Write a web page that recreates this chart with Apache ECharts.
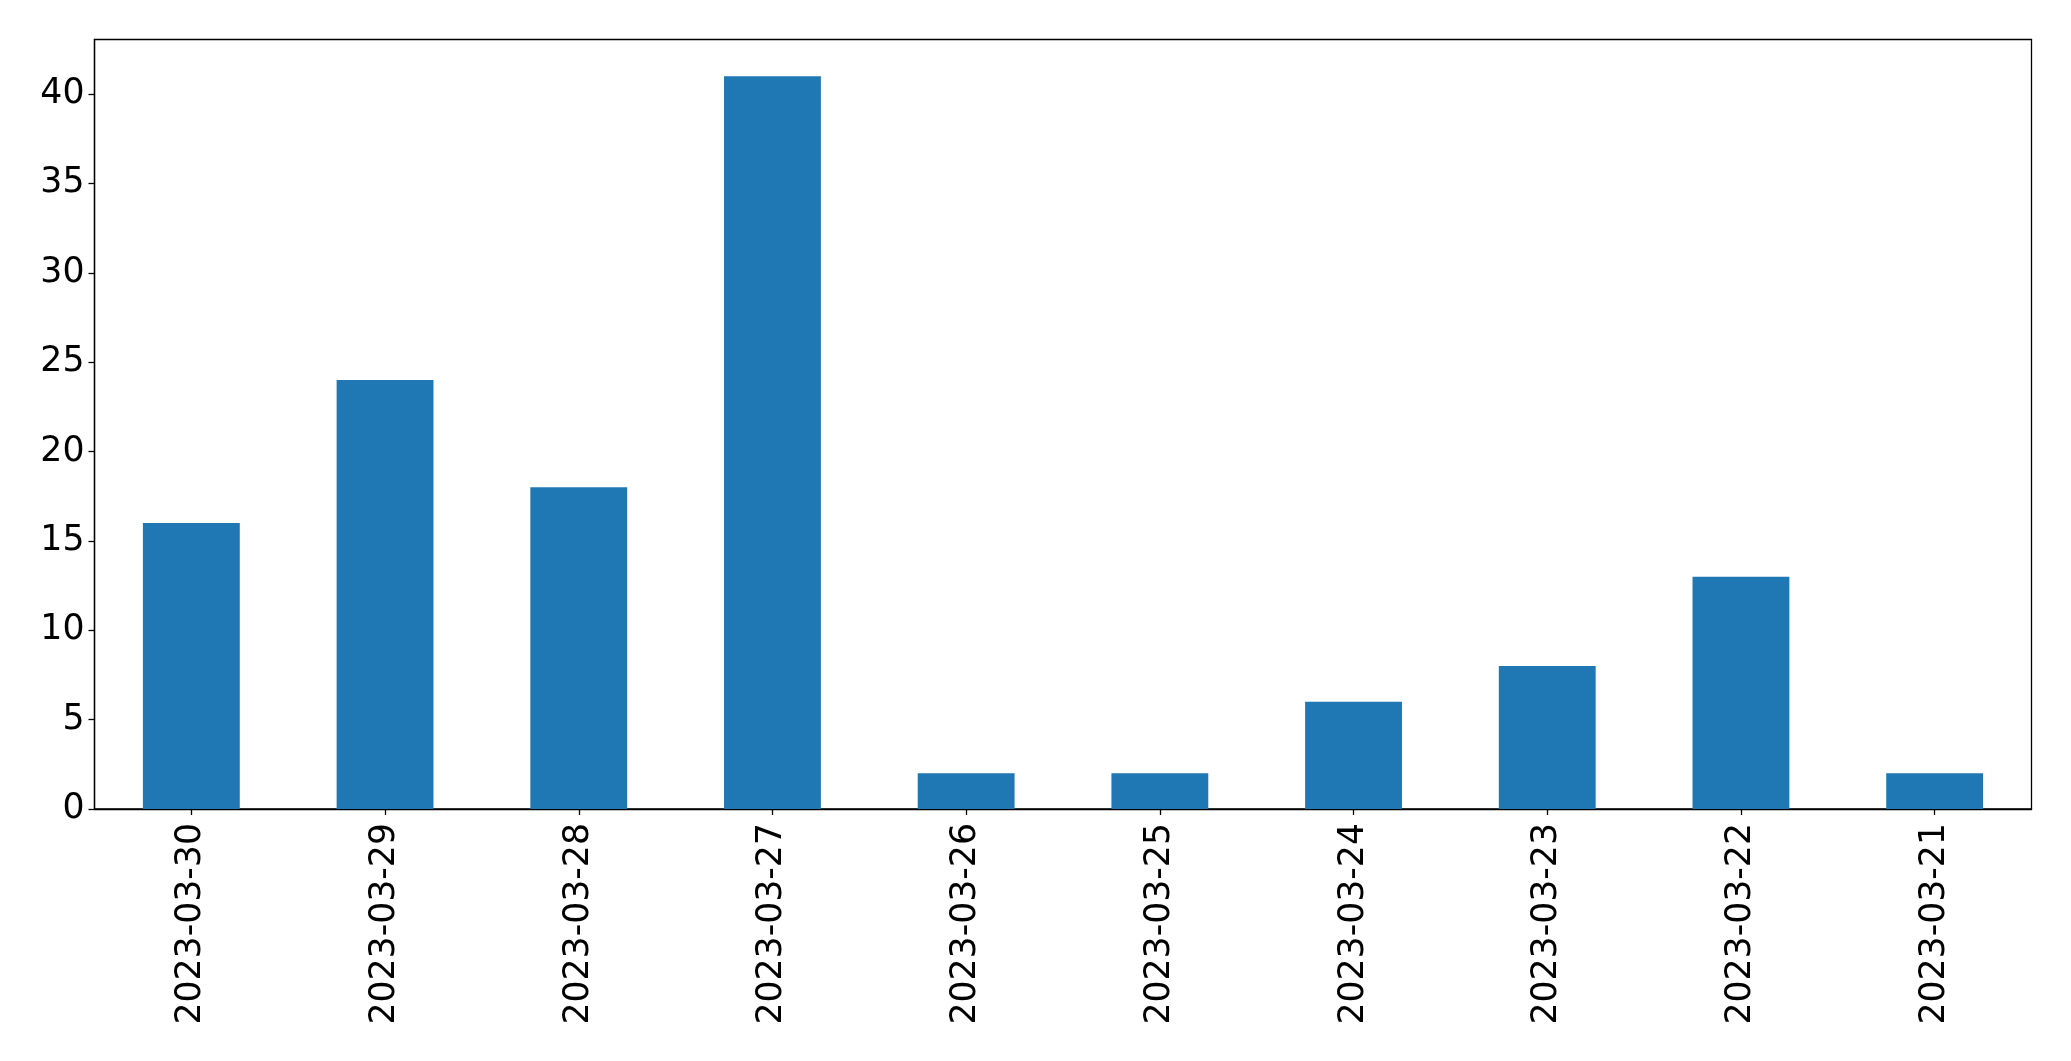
<!DOCTYPE html>
<html>
<head>
<meta charset="utf-8">
<script src="https://cdn.jsdelivr.net/npm/echarts@6/dist/echarts.min.js"></script>
<style>html,body{margin:0;padding:0;background:#fff;}#c{width:2071px;height:1061px;}</style>
</head>
<body>
<div id="c"></div>
<script>
const categories = ['2023-03-30','2023-03-29','2023-03-28','2023-03-27','2023-03-26','2023-03-25','2023-03-24','2023-03-23','2023-03-22','2023-03-21'];
const values = [16, 24, 18, 41, 2, 2, 6, 8, 13, 2];
const yTicks = [0, 5, 10, 15, 20, 25, 30, 35, 40];
const yMax = 43.05;

const chart = echarts.init(document.getElementById('c'));
const font = 'DejaVu Sans';
chart.setOption({
  animation: false,
  backgroundColor: '#ffffff',
  grid: {
    left: 94.5, right: 39.5, top: 39.5, bottom: 252,
    show: true, borderColor: '#000', borderWidth: 1.3, backgroundColor: 'transparent'
  },
  xAxis: {
    type: 'category',
    data: categories,
    boundaryGap: true,
    axisLine: { show: true, lineStyle: { color: '#000', width: 1.3 } },
    axisTick: { show: true, alignWithLabel: true, length: 6, lineStyle: { color: '#000', width: 1.3 } },
    axisLabel: { rotate: 90, fontSize: 34.7, fontFamily: font, color: '#000', margin: 14, interval: 0 },
    splitLine: { show: false }
  },
  yAxis: {
    type: 'value',
    min: 0,
    max: yMax,
    axisLine: { show: true, lineStyle: { color: '#000', width: 1.3 } },
    axisTick: { show: true, length: 6, customValues: yTicks, lineStyle: { color: '#000', width: 1.3 } },
    axisLabel: { fontSize: 34.7, fontFamily: font, color: '#000', margin: 10, customValues: yTicks },
    splitLine: { show: false }
  },
  series: [{
    type: 'bar',
    data: values,
    barWidth: '50%',
    itemStyle: { color: '#1f77b4' }
  }]
});
</script>
</body>
</html>
